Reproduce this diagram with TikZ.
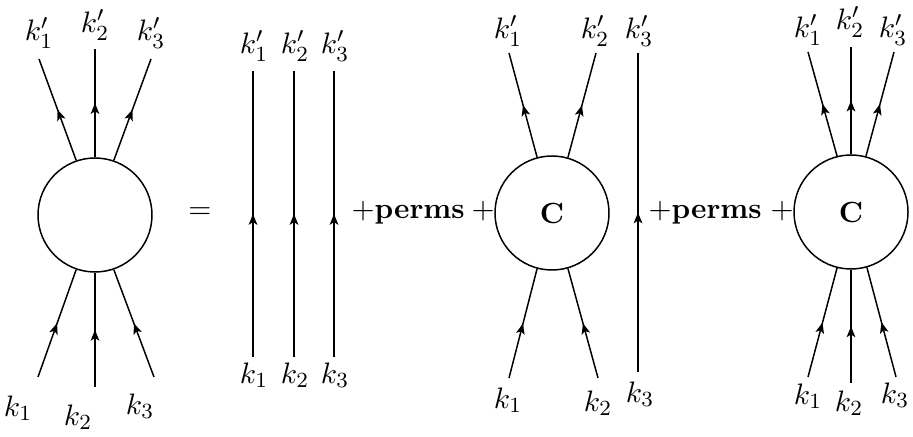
\documentclass[tikz,border=0pt]{standalone}
\usetikzlibrary{arrows.meta,decorations.markings}
\begin{document}
\begin{tikzpicture}[x=0.37pt,y=-0.37pt,
  every node/.style={font=\fontsize{10.8}{13}\selectfont},
  blob/.style={draw,circle,minimum size=114*0.37pt,inner sep=0pt,line width=0.55pt},
  prop/.style={line width=0.55pt,postaction={decorate},
    decoration={markings,mark=at position 0.5 with {\arrow{Stealth[length=4pt,width=3.2pt,inset=1pt]}}}},
  lab/.style={inner sep=0pt,anchor=center}]
\useasboundingbox (0,0) rectangle (913,437);
% ---------- diagram 1 ----------
\node[blob] (A) at (95,215) {};
\coordinate (A1t) at (39,59); \coordinate (A2t) at (95,49); \coordinate (A3t) at (151,59);
\coordinate (A1b) at (38,377); \coordinate (A2b) at (95,387); \coordinate (A3b) at (154,377);
\draw[prop] (A.109) -- (A1t);
\draw[prop] (A.90) -- (A2t);
\draw[prop] (A.71) -- (A3t);
\draw[prop] (A1b) -- (A.251);
\draw[prop] (A2b) -- (A.270);
\draw[prop] (A3b) -- (A.289);
\node[lab] (lA1t) at (39,33) {$k'_1$};
\node[lab] (lA2t) at (95,25) {$k'_2$};
\node[lab] (lA3t) at (151,33) {$k'_3$};
\node[lab] (lA1b) at (18,408) {$k_1$};
\node[lab] (lA2b) at (78,417) {$k_2$};
\node[lab] (lA3b) at (140,406) {$k_3$};
\node[lab] (eq) at (200,213) {$=$};
% ---------- diagram 2 ----------
\foreach \i/\x in {1/253,2/294,3/334}{
  \coordinate (B\i t) at (\x,71); \coordinate (B\i b) at (\x,357);
  \draw[prop] (B\i b) -- (B\i t);
  \node[lab] (lB\i t) at (\x+1,46) {$k'_\i$};
  \node[lab] (lB\i b) at (\x+1,375) {$k_\i$};
}
\node[inner sep=0pt,anchor=base west] (pm1) at (351,219) {$+$\textbf{perms}};
\node[inner sep=0pt,anchor=base west] (pl1) at (471,219) {$+$};
% ---------- diagram 3 ----------
\node[blob] (C) at (552,213) {\textbf{C}};
\coordinate (C1t) at (509,53); \coordinate (C2t) at (596,53);
\coordinate (C1b) at (509,378); \coordinate (C2b) at (598,378);
\draw[prop] (C.105) -- (C1t);
\draw[prop] (C.74) -- (C2t);
\draw[prop] (C1b) -- (C.255);
\draw[prop] (C2b) -- (C.286);
\coordinate (C3t) at (638,53); \coordinate (C3b) at (638,372);
\draw[prop] (C3b) -- (C3t);
\node[lab] (lC1t) at (508,31) {$k'_1$};
\node[lab] (lC2t) at (595,31) {$k'_2$};
\node[lab] (lC3t) at (639,31) {$k'_3$};
\node[lab] (lC1b) at (508,400) {$k_1$};
\node[lab] (lC2b) at (598,403) {$k_2$};
\node[lab] (lC3b) at (640,394) {$k_3$};
\node[inner sep=0pt,anchor=base west] (pm2) at (648,219) {$+$\textbf{perms}};
\node[inner sep=0pt,anchor=base west] (pl2) at (770,219) {$+$};
% ---------- diagram 4 ----------
\node[blob] (D) at (851,212) {\textbf{C}};
\coordinate (D1t) at (808,52); \coordinate (D2t) at (851,47); \coordinate (D3t) at (894,52);
\coordinate (D1b) at (808,377); \coordinate (D2b) at (851,383); \coordinate (D3b) at (896,377);
\draw[prop] (D.104) -- (D1t);
\draw[prop] (D.90) -- (D2t);
\draw[prop] (D.75) -- (D3t);
\draw[prop] (D1b) -- (D.256);
\draw[prop] (D2b) -- (D.270);
\draw[prop] (D3b) -- (D.286);
\node[lab] (lD1t) at (808,30) {$k'_1$};
\node[lab] (lD2t) at (850,22) {$k'_2$};
\node[lab] (lD3t) at (893,30) {$k'_3$};
\node[lab] (lD1b) at (808,396) {$k_1$};
\node[lab] (lD2b) at (849,403) {$k_2$};
\node[lab] (lD3b) at (895,395) {$k_3$};
\end{tikzpicture}
\end{document}
